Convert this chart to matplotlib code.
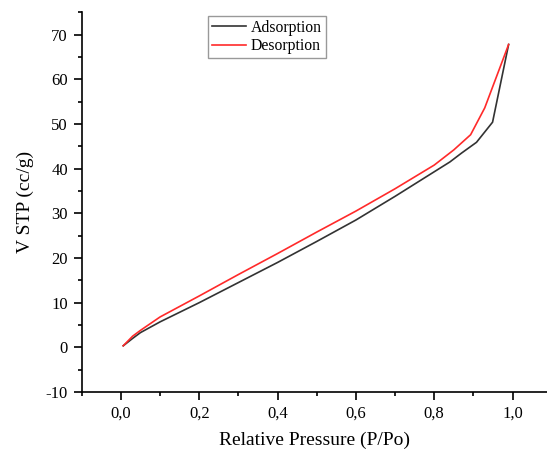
import matplotlib
matplotlib.use("Agg")
import matplotlib.pyplot as plt
from matplotlib.ticker import MultipleLocator, FuncFormatter

plt.rcParams['font.family'] = ['Liberation Serif', 'DejaVu Serif']

ads_x = [0.006, 0.03, 0.05, 0.1, 0.2, 0.3, 0.4, 0.5, 0.6, 0.7, 0.8, 0.84, 0.87, 0.908, 0.949, 0.99]
ads_y = [0.35, 2.0, 3.3, 5.7, 10.0, 14.5, 19.0, 23.7, 28.5, 33.8, 39.3, 41.5, 43.5, 45.9, 50.4, 67.8]
des_x = [0.006, 0.03, 0.05, 0.1, 0.2, 0.3, 0.4, 0.5, 0.6, 0.7, 0.8, 0.85, 0.893, 0.929, 0.99]
des_y = [0.35, 2.5, 3.8, 6.8, 11.5, 16.3, 21.0, 25.8, 30.5, 35.5, 40.8, 44.2, 47.6, 53.6, 67.8]

fig = plt.figure(figsize=(5.47, 4.51), dpi=100)
ax = fig.add_axes([0.1494, 0.1308, 0.8506, 0.8419])

ax.plot(ads_x, ads_y, color='#333333', lw=1.2, label='Adsorption')
ax.plot(des_x, des_y, color='#ff2a2a', lw=1.2, label='Desorption')

ax.set_xlim(-0.1, 1.088)
ax.set_ylim(-10, 75)
ax.xaxis.set_major_locator(MultipleLocator(0.2))
ax.xaxis.set_minor_locator(MultipleLocator(0.1))
ax.yaxis.set_major_locator(MultipleLocator(10))
ax.yaxis.set_minor_locator(MultipleLocator(5))
ax.xaxis.set_major_formatter(FuncFormatter(lambda v, p: f"{v:.1f}".replace('.', ',').replace('-0,0', '0,0')))
ax.yaxis.set_major_formatter(FuncFormatter(lambda v, p: f"{v:.0f}"))

for s in ['top', 'right']:
    ax.spines[s].set_visible(False)
for s in ['left', 'bottom']:
    ax.spines[s].set_linewidth(1.2)
ax.tick_params(which='major', direction='out', length=6, width=1.2, labelsize=12, pad=4)
ax.tick_params(which='minor', direction='out', length=3, width=1.2)

ax.set_xlabel('Relative Pressure (P/Po)', fontsize=14, labelpad=7)
ax.set_ylabel('V STP (cc/g)', fontsize=14, labelpad=8)

leg = ax.legend(loc='upper left', bbox_to_anchor=(0.271, 0.991), borderaxespad=0,
                fontsize=11.3, fancybox=False, framealpha=1, edgecolor='#999999',
                handlelength=2.2, handletextpad=0.3, borderpad=0.25, labelspacing=0.15)
leg.get_frame().set_linewidth(1.0)

fig.savefig('out.png', dpi=100)
